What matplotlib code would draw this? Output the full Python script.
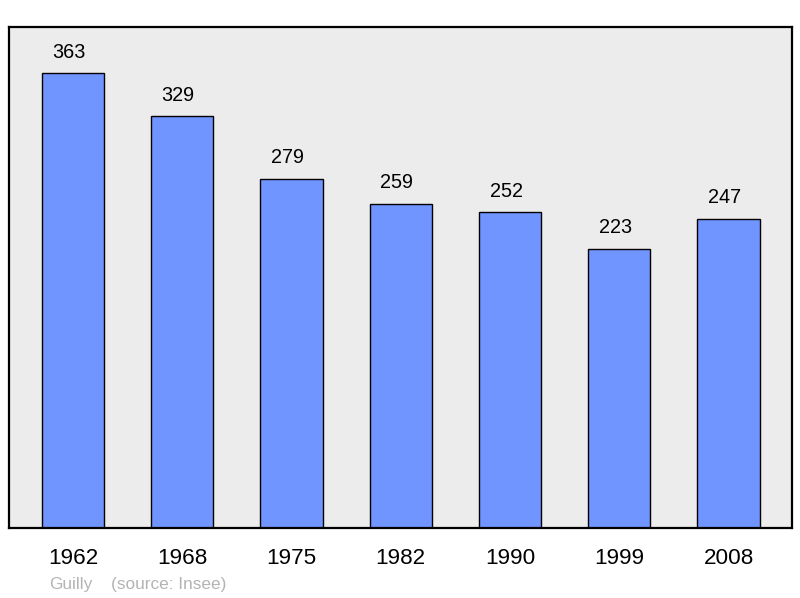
import matplotlib
matplotlib.use("Agg")
import matplotlib.pyplot as plt

years = ["1962", "1968", "1975", "1982", "1990", "1999", "2008"]
population = [363, 329, 279, 259, 252, 223, 247]

plt.rcParams['font.family'] = ['Liberation Sans', 'DejaVu Sans']

fig = plt.figure(figsize=(8, 5.98), dpi=100)
ax = fig.add_axes([9/800, 1 - 528/598, 783/800, 501/598])
ax.set_facecolor('#ececec')

xs = list(range(len(years)))
bars = ax.bar(xs, population, width=0.57, color='#7095ff', edgecolor='black', linewidth=1.0, zorder=2)
for x, v in zip(xs, population):
    ax.annotate(str(v), (x, v), xytext=(-2.9, 15.0), textcoords='offset points',
                ha='center', va='center', fontsize=14.3, color='black')

ax.set_xlim(-0.585, len(years) - 1 + 0.58)
ax.set_ylim(0, 400)
ax.set_xticks(xs)
ax.set_xticklabels(years, fontsize=16.2)
ax.tick_params(axis='x', length=0, pad=14.3)
ax.set_yticks([])
for s in ax.spines.values():
    s.set_linewidth(1.6)
    s.set_color('black')

fig.text(49/800, 1 - 585/598, "Guilly", fontsize=12.4, color='#b4b4b4', va='center', ha='left')
fig.text(111/800, 1 - 585/598, "(source: Insee)", fontsize=12.4, color='#b4b4b4', va='center', ha='left')

fig.savefig("out.png", dpi=100, facecolor='white')
